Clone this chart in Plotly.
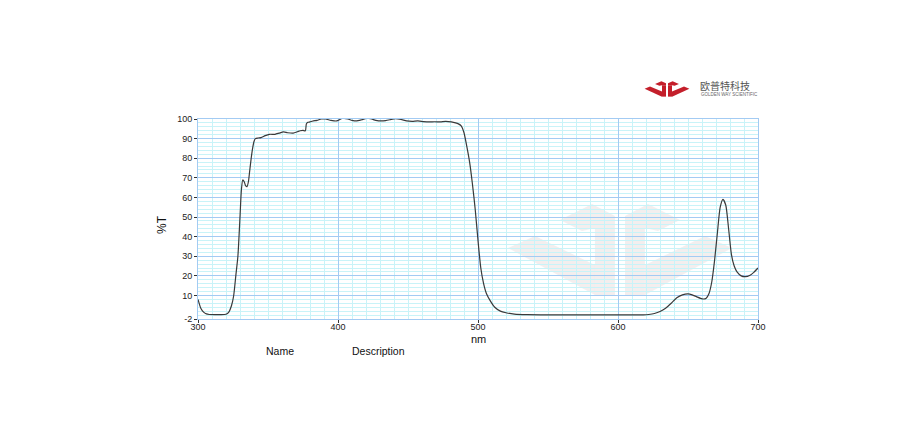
import plotly.graph_objects as go

# ---- data ----
wavelength_nm = [300, 302, 304, 306, 308, 312, 316, 320, 322, 324, 325.5, 327, 328.5, 330, 331, 332, 333,
                 334, 335, 336, 337, 338, 339, 340, 341, 343, 345, 348, 351, 355, 358, 361, 364, 368, 371,
                 373, 375, 376.7, 377.4, 378.5, 380, 382, 385, 388, 391, 395, 399, 403, 407, 410, 413, 417,
                 421, 424, 427, 431, 434, 437, 441, 445, 449, 453, 457, 461, 465, 469, 473, 477, 481, 484,
                 486, 488, 490, 492, 494, 496, 498, 500, 502, 504, 506, 509, 512, 516, 520, 526, 535, 550,
                 570, 590, 610, 618, 622, 626, 630, 634, 638, 642, 646, 650, 653, 656, 659, 661, 663, 665,
                 667, 669, 671, 673, 675, 677, 679, 681, 683, 685, 688, 691, 694, 697, 700]
transmission_pct = [8, 3.5, 1.5, 0.6, 0.3, 0.2, 0.2, 0.4, 1.5, 5, 10, 20, 30, 50, 64, 69, 68,
                    66, 65.5, 68, 74, 80, 85, 88.5, 90, 90.3, 90.5, 91.5, 92.2, 92.2, 92.8, 93.4, 93, 92.8, 93.5,
                    94, 94.2, 94, 97.5, 98.3, 98.5, 99, 99.3, 100, 100, 99.3, 99, 100.3, 100, 99.3, 99, 99.6,
                    100.4, 100, 99.3, 99, 99.2, 99.6, 100.2, 99.8, 99, 98.8, 99, 98.7, 98.5, 98.6, 98.5, 98.8, 98.5, 98,
                    97.5, 96.5, 93, 86, 78, 67, 54, 38, 24, 16, 11, 7, 4, 2, 1.2, 0.5, 0.2, 0.1,
                    0.1, 0.1, 0.1, 0.1, 0.3, 0.8, 1.8, 3.5, 6, 8.8, 10.3, 10.8, 10.3, 9.4, 8.5, 8.2, 8.6, 11,
                    17, 28, 42, 55, 59, 56, 44, 31, 25, 22, 20, 19.6, 20.2, 21.8, 24]
x_ticks = [300, 400, 500, 600, 700]
y_ticks = [-2, 10, 20, 30, 40, 50, 60, 70, 80, 90, 100]
y_tick_labels = ["-2", "10", "20", "30", "40", "50", "60", "70", "80", "90", "100"]

# page has an 8px body margin, so the figure is drawn at (8, 8)
OFF = 8
W, H = 924 - 2 * OFF, 440 - 2 * OFF
PX0, PY0, PX1, PY1 = 198, 119, 758, 319          # target plot area in window pixels
L, T = PX0 - OFF, PY0 - OFF
PW, PH = PX1 - PX0, PY1 - PY0
R, B = W - L - PW, H - T - PH

MAJOR = "#a3cbf3"
MINOR = "#c9f3f8"
FONT = "Liberation Sans"

fig = go.Figure()
fig.add_trace(go.Scatter(x=wavelength_nm, y=transmission_pct, mode="lines",
                         line=dict(color="#3a3a3a", width=1.2, shape="spline", smoothing=0.6),
                         hoverinfo="skip", showlegend=False))


def px2paper(px, py):
    # window pixel -> paper coordinates
    return (px - PX0) / PW, (PY1 - py) / PH


def piece(mirror, cx, cy, sx, sy):
    polys = [
        [(508, 248), (535, 236), (595, 265), (595, 295), (508, 248)],
        [(595, 228), (615, 228), (615, 295), (595, 295)],
        [(560, 220), (592, 204), (615, 216), (615, 228), (595, 228), (582, 231)],
    ]
    paths = []
    for poly in polys:
        pts = []
        for (x, y) in poly:
            dx = x - 620
            if mirror:
                dx = -dx
            pts.append(px2paper(cx + dx * sx, cy + (y - 250) * sy))
        d = "M " + " L ".join(f"{a:.4f},{b:.4f}" for a, b in pts) + " Z"
        paths.append(d)
    return paths


shapes = []
for m in (False, True):
    for d in piece(m, 620, 250, 1.0, 1.0):
        shapes.append(dict(type="path", path=d, xref="paper", yref="paper",
                           fillcolor="rgba(222,205,205,0.35)", line=dict(width=0), layer="below"))
for m in (False, True):
    for d in piece(m, 667, 89, 0.2, 0.17):
        shapes.append(dict(type="path", path=d, xref="paper", yref="paper",
                           fillcolor="#c41f2b", line=dict(width=0), layer="above"))


def ann(text, px, py, size, color="#111", family=FONT, xanchor="center", **kw):
    x, y = px2paper(px, py)
    return dict(text=text, x=x, y=y, xref="paper", yref="paper", showarrow=False,
                xanchor=xanchor, yanchor="middle", borderpad=0,
                font=dict(family=family, size=size, color=color), **kw)


annotations = [
    ann("%T", 162, 225, 12, textangle=-90),
    ann("nm", 478, 339, 11),
    ann("Name", 280, 351, 10.5),
    ann("Description", 378, 351, 10.5),
    ann("欧普特科技", 699, 85, 10, color="#555", family="Noto Sans CJK SC", xanchor="left"),
    ann("GOLDEN WAY SCIENTIFIC", 700, 94.5, 4.5, color="#666", xanchor="left"),
]

fig.update_layout(
    width=W, height=H, autosize=False,
    margin=dict(l=L, r=R, t=T, b=B, pad=0),
    paper_bgcolor="white", plot_bgcolor="white",
    shapes=shapes, annotations=annotations,
    xaxis=dict(range=[300, 700], tickvals=x_ticks, showgrid=True, gridcolor=MAJOR, gridwidth=1,
               minor=dict(dtick=10, tick0=300, showgrid=True, gridcolor=MINOR, gridwidth=1, ticks=""),
               showline=True, linecolor=MAJOR, linewidth=1, mirror=True,
               ticks="outside", ticklen=3, tickcolor="#333", zeroline=False, ticklabelstandoff=-4,
               tickfont=dict(family=FONT, size=9, color="#222")),
    yaxis=dict(range=[-2, 100], tickvals=y_ticks, ticktext=y_tick_labels, showgrid=True, gridcolor=MAJOR,
               gridwidth=1,
               minor=dict(dtick=2, tick0=0, showgrid=True, gridcolor=MINOR, gridwidth=1, ticks=""),
               showline=True, linecolor=MAJOR, linewidth=1, mirror=True,
               ticks="outside", ticklen=3, tickcolor="#333", zeroline=False,
               tickfont=dict(family=FONT, size=9, color="#222")),
)

fig.write_html("out.html")
